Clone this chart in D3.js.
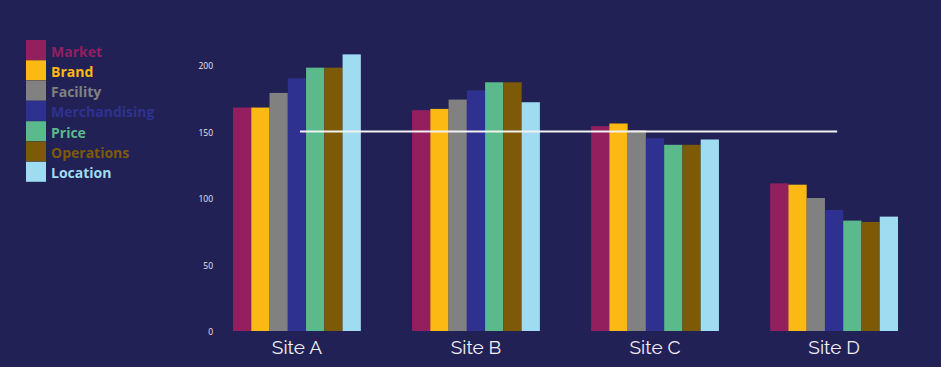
<!DOCTYPE html>
<html>
<head>
<meta charset="utf-8">
<script src="https://cdn.jsdelivr.net/npm/d3@7"></script>
<style>
  html, body { margin: 0; padding: 0; background: #222155; }
  svg { display: block; }
</style>
</head>
<body>
<svg id="chart" width="941" height="367"></svg>
<script>
// sites and the drivers measured at each
var sites = ["Site A", "Site B", "Site C", "Site D"];
var drivers = ["Market", "Brand", "Facility", "Merchandising", "Price", "Operations", "Location"];
var colors = ["#931f5f", "#fdb913", "#818181", "#2e3190", "#5bba8b", "#7c5a08", "#9fdcf1"];

// one value list per driver, in site order
var market        = [168, 166, 154, 111];
var brand         = [168, 167, 156, 110];
var facility      = [179, 174, 151, 100];
var merchandising = [190, 181, 145, 91];
var price         = [198, 187, 140, 83];
var operations    = [198, 187, 140, 82];
var location_     = [208, 172, 144, 86];

var yTicks = [0, 50, 100, 150, 200];
var target = 150;

var series = [market, brand, facility, merchandising, price, operations, location_];

var svg = d3.select("#chart");

var x = d3.scaleBand()
    .domain(sites)
    .range([233, 898])
    .paddingInner(0.286)
    .paddingOuter(0);

var x1 = d3.scaleBand()
    .domain(drivers)
    .range([0, x.bandwidth()])
    .padding(0);

var y = d3.scaleLinear()
    .domain([0, 200])
    .range([331, 65]);

var color = d3.scaleOrdinal().domain(drivers).range(colors);

// y axis labels only, no line
var yAxis = svg.append("g")
    .attr("transform", "translate(213,1)")
    .call(d3.axisLeft(y).tickValues(yTicks).tickSize(0).tickPadding(0));
yAxis.select(".domain").remove();
yAxis.selectAll("text")
    .attr("fill", "#e6e6f2")
    .style("font-family", "'Open Sans', sans-serif")
    .style("font-size", "8.5px");

// bars
var groups = svg.append("g").selectAll("g")
    .data(sites)
  .enter().append("g")
    .attr("transform", function(d) { return "translate(" + x(d) + ",0)"; });

groups.selectAll("rect")
    .data(function(s, i) {
      return drivers.map(function(k, j) { return {key: k, value: series[j][i]}; });
    })
  .enter().append("rect")
    .attr("x", function(d) { return x1(d.key); })
    .attr("y", function(d) { return y(d.value); })
    .attr("width", x1.bandwidth())
    .attr("height", function(d) { return y(0) - y(d.value); })
    .attr("fill", function(d) { return color(d.key); });

// target line at 150
svg.append("line")
    .attr("x1", x(sites[0]) + 67)
    .attr("x2", x(sites[sites.length - 1]) + 67)
    .attr("y1", y(target))
    .attr("y2", y(target))
    .attr("stroke", "#f2f2f2")
    .attr("stroke-width", 2);

// x labels
var xAxis = svg.append("g")
    .attr("transform", "translate(0,331)")
    .call(d3.axisBottom(x).tickSize(0).tickPadding(10));
xAxis.select(".domain").remove();
xAxis.selectAll("text")
    .attr("fill", "#f0f0f6")
    .style("font-family", "Raleway, Lato, sans-serif")
    .style("font-size", "19px");

// legend
var legend = svg.append("g").attr("transform", "translate(26,40)");
var item = legend.selectAll("g")
    .data(drivers)
  .enter().append("g")
    .attr("transform", function(d, i) { return "translate(0," + (i * 20.3) + ")"; });

item.append("rect")
    .attr("width", 20)
    .attr("height", 20)
    .attr("fill", function(d) { return color(d); });

item.append("text")
    .attr("x", 25)
    .attr("y", 16.5)
    .attr("fill", function(d) { return color(d); })
    .style("font-family", "'Open Sans', sans-serif")
    .style("font-weight", "bold")
    .style("font-size", "14px")
    .text(function(d) { return d; });
</script>
</body>
</html>
